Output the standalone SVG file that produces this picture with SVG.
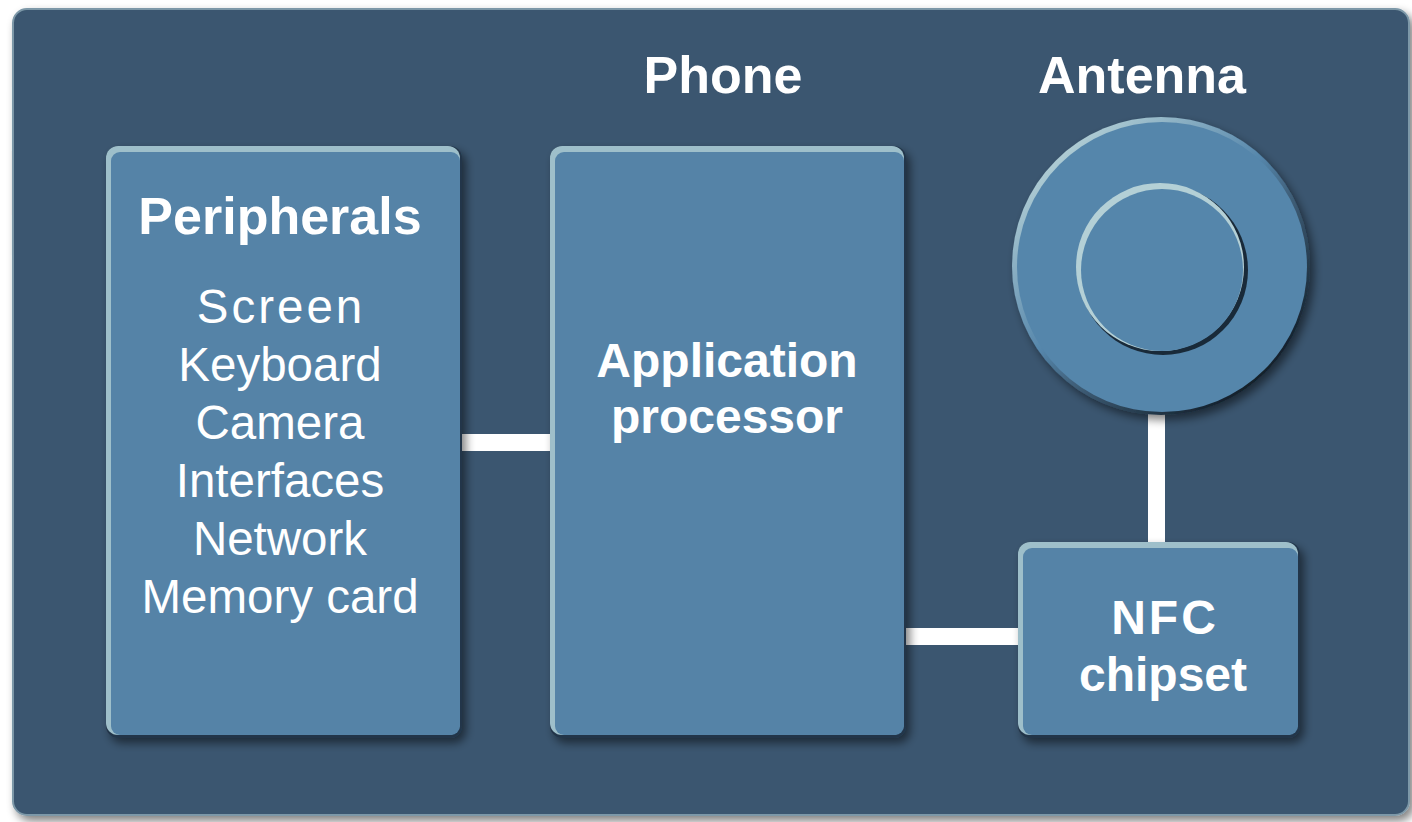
<svg xmlns="http://www.w3.org/2000/svg" width="1412" height="822" viewBox="0 0 1412 822">
<defs>
<filter id="sh" x="-10%" y="-10%" width="130%" height="130%">
<feGaussianBlur in="SourceAlpha" stdDeviation="5"/>
<feOffset dx="4" dy="5" result="b"/>
<feComponentTransfer><feFuncA type="linear" slope="0.5"/></feComponentTransfer>
<feMerge><feMergeNode/><feMergeNode in="SourceGraphic"/></feMerge>
</filter>
<linearGradient id="ring" x1="0.15" y1="0.1" x2="0.85" y2="0.9">
<stop offset="0" stop-color="#b4d0d6"/>
<stop offset="0.45" stop-color="#5586ab"/>
<stop offset="0.6" stop-color="#40607a"/>
<stop offset="1" stop-color="#0f1a24"/>
</linearGradient>
<style>
.panel{fill:#3a566f;stroke:#7d98a8;stroke-width:2}
.dk{fill:#22364a}
.lt{fill:#9ebfca}
.fl{fill:#5483a7}
.t{font-family:"Liberation Sans",Arial,sans-serif;fill:#ffffff;text-anchor:middle}
.b{font-weight:bold;font-size:52px}
.bi{font-weight:bold;font-size:48px}
.r{font-size:47.5px}
.c{fill:#ffffff}
</style>
</defs>
<rect x="0" y="0" width="1412" height="822" fill="#ffffff"/>
<g id="panel">
<rect class="panel" x="13" y="9" width="1396" height="806" rx="14" filter="url(#sh)"/>
<text class="t b" x="723" y="93">Phone</text>
<text class="t b" x="1142" y="93">Antenna</text>
</g>
<g id="connectors">
<rect class="c" x="462" y="434" width="90" height="17"/>
<rect class="c" x="906" y="628" width="114" height="17"/>
<rect class="c" x="1148" y="412" width="17" height="132"/>
</g>
<g id="peripherals">
<g filter="url(#sh)">
<rect class="dk" x="106" y="146" width="356" height="592" rx="12"/>
<rect class="lt" x="106" y="146" width="354" height="589" rx="12"/>
<rect class="fl" x="111" y="152" width="349" height="583" rx="9"/>
</g>
<text class="t b" x="280" y="234">Peripherals</text>
<text class="t r" x="281" y="323" letter-spacing="3">Screen</text>
<text class="t r" x="280" y="381">Keyboard</text>
<text class="t r" x="280" y="439">Camera</text>
<text class="t r" x="280" y="497">Interfaces</text>
<text class="t r" x="280" y="555">Network</text>
<text class="t r" x="280" y="613">Memory card</text>
</g>
<g id="app-processor">
<g filter="url(#sh)">
<rect class="dk" x="550" y="146" width="356" height="592" rx="12"/>
<rect class="lt" x="550" y="146" width="354" height="589" rx="12"/>
<rect class="fl" x="555" y="152" width="349" height="583" rx="9"/>
</g>
<text class="t bi" x="727" y="377">Application</text>
<text class="t bi" x="727" y="433">processor</text>
</g>
<g id="antenna">
<circle cx="1161" cy="266" r="149" fill="url(#ring)" filter="url(#sh)"/>
<circle cx="1162" cy="267" r="145" fill="#5586ab"/>
<circle cx="1163" cy="270" r="85" fill="#0f1a24" opacity="0.85"/>
<circle cx="1160" cy="267" r="84" fill="#b4d0d6"/>
<circle cx="1162" cy="270" r="81" fill="#5586ab"/>
</g>
<g id="nfc">
<g filter="url(#sh)">
<rect class="dk" x="1018" y="542" width="282" height="196" rx="12"/>
<rect class="lt" x="1018" y="542" width="280" height="193" rx="12"/>
<rect class="fl" x="1023" y="548" width="275" height="187" rx="9"/>
</g>
<text class="t bi" x="1165" y="634" letter-spacing="3">NFC</text>
<text class="t bi" x="1163" y="691">chipset</text>
</g>
</svg>
